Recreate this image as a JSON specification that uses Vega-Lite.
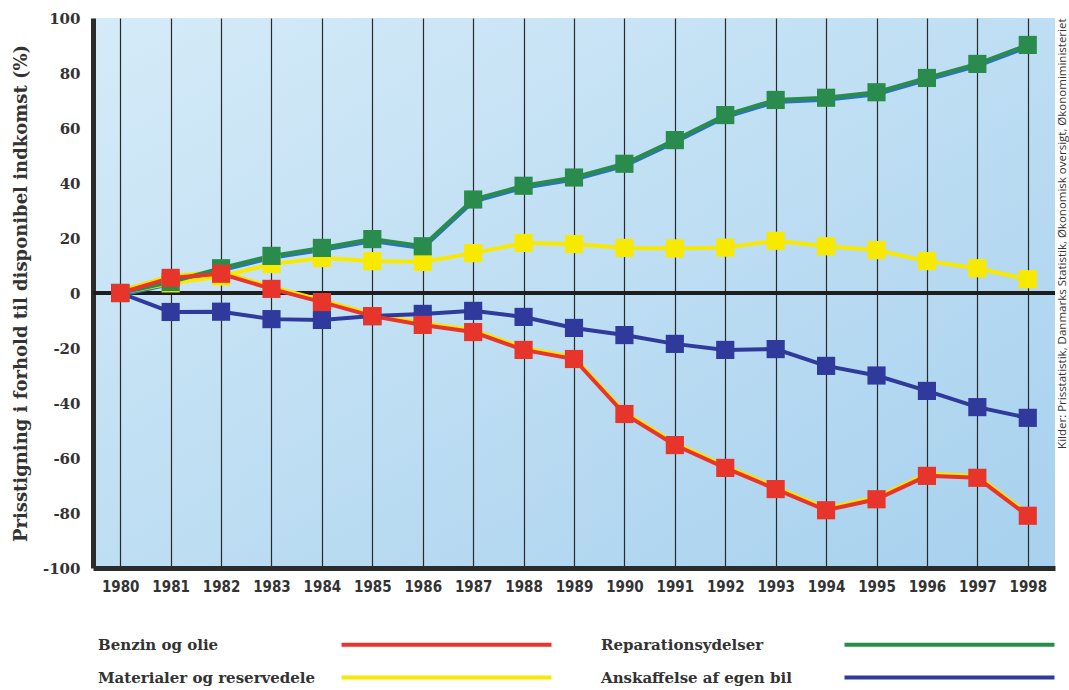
{
  "$schema": "https://vega.github.io/schema/vega-lite/v6.json",
  "width": 962,
  "height": 550,
  "autosize": "none",
  "padding": {"left": 93, "top": 18, "right": 14, "bottom": 122},
  "background": "white",
  "config": {
    "view": {
      "fill": {"gradient": "linear", "x1": 0, "y1": 0, "x2": 1, "y2": 1,
        "stops": [{"offset": 0, "color": "#d5ebf8"}, {"offset": 1, "color": "#a7d1ee"}]},
      "stroke": null
    },
    "axis": {
      "gridColor": "#2a2a2a",
      "gridOpacity": 1,
      "gridWidth": 1.2,
      "ticks": false,
      "domainColor": "#2b2b2b",
      "domainWidth": 5
    },
    "legend": {
      "orient": "none",
      "legendX": 341,
      "legendY": 614,
      "columns": 2,
      "columnPadding": 41,
      "rowPadding": 12,
      "symbolType": "M-10,0H10",
      "symbolSize": 441,
      "symbolStrokeWidth": 4,
      "labelFont": "DejaVu Serif",
      "labelFontWeight": "bold",
      "labelFontSize": 15,
      "labelColor": "#333333",
      "labelAlign": "left",
      "labelOffset": -361,
      "labelLimit": 300
    }
  },
  "resolve": {"axis": {"y": "independent"}},
  "data": {
    "values": [
      {"year": 1980, "series": "Materialer og reservedele", "value": 0},
      {"year": 1981, "series": "Materialer og reservedele", "value": 3.5},
      {"year": 1982, "series": "Materialer og reservedele", "value": 6},
      {"year": 1983, "series": "Materialer og reservedele", "value": 10.5},
      {"year": 1984, "series": "Materialer og reservedele", "value": 12.7},
      {"year": 1985, "series": "Materialer og reservedele", "value": 11.6},
      {"year": 1986, "series": "Materialer og reservedele", "value": 11.3},
      {"year": 1987, "series": "Materialer og reservedele", "value": 14.5},
      {"year": 1988, "series": "Materialer og reservedele", "value": 18.2},
      {"year": 1989, "series": "Materialer og reservedele", "value": 17.8},
      {"year": 1990, "series": "Materialer og reservedele", "value": 16.4},
      {"year": 1991, "series": "Materialer og reservedele", "value": 16.2},
      {"year": 1992, "series": "Materialer og reservedele", "value": 16.5},
      {"year": 1993, "series": "Materialer og reservedele", "value": 19},
      {"year": 1994, "series": "Materialer og reservedele", "value": 17},
      {"year": 1995, "series": "Materialer og reservedele", "value": 15.6},
      {"year": 1996, "series": "Materialer og reservedele", "value": 11.6},
      {"year": 1997, "series": "Materialer og reservedele", "value": 9},
      {"year": 1998, "series": "Materialer og reservedele", "value": 5},
      {"year": 1980, "series": "Reparationsydelser", "value": 0},
      {"year": 1981, "series": "Reparationsydelser", "value": 4},
      {"year": 1982, "series": "Reparationsydelser", "value": 9},
      {"year": 1983, "series": "Reparationsydelser", "value": 13.5},
      {"year": 1984, "series": "Reparationsydelser", "value": 16.4},
      {"year": 1985, "series": "Reparationsydelser", "value": 19.6},
      {"year": 1986, "series": "Reparationsydelser", "value": 17},
      {"year": 1987, "series": "Reparationsydelser", "value": 34},
      {"year": 1988, "series": "Reparationsydelser", "value": 39},
      {"year": 1989, "series": "Reparationsydelser", "value": 42},
      {"year": 1990, "series": "Reparationsydelser", "value": 47},
      {"year": 1991, "series": "Reparationsydelser", "value": 55.6},
      {"year": 1992, "series": "Reparationsydelser", "value": 64.7},
      {"year": 1993, "series": "Reparationsydelser", "value": 70.2},
      {"year": 1994, "series": "Reparationsydelser", "value": 71},
      {"year": 1995, "series": "Reparationsydelser", "value": 73},
      {"year": 1996, "series": "Reparationsydelser", "value": 78.2},
      {"year": 1997, "series": "Reparationsydelser", "value": 83.3},
      {"year": 1998, "series": "Reparationsydelser", "value": 90.2},
      {"year": 1980, "series": "Anskaffelse af egen bil", "value": 0},
      {"year": 1981, "series": "Anskaffelse af egen bil", "value": -6.9},
      {"year": 1982, "series": "Anskaffelse af egen bil", "value": -6.8},
      {"year": 1983, "series": "Anskaffelse af egen bil", "value": -9.5},
      {"year": 1984, "series": "Anskaffelse af egen bil", "value": -9.8},
      {"year": 1985, "series": "Anskaffelse af egen bil", "value": -8.4},
      {"year": 1986, "series": "Anskaffelse af egen bil", "value": -7.6},
      {"year": 1987, "series": "Anskaffelse af egen bil", "value": -6.5},
      {"year": 1988, "series": "Anskaffelse af egen bil", "value": -8.7},
      {"year": 1989, "series": "Anskaffelse af egen bil", "value": -12.7},
      {"year": 1990, "series": "Anskaffelse af egen bil", "value": -15.3},
      {"year": 1991, "series": "Anskaffelse af egen bil", "value": -18.5},
      {"year": 1992, "series": "Anskaffelse af egen bil", "value": -20.7},
      {"year": 1993, "series": "Anskaffelse af egen bil", "value": -20.4},
      {"year": 1994, "series": "Anskaffelse af egen bil", "value": -26.5},
      {"year": 1995, "series": "Anskaffelse af egen bil", "value": -30},
      {"year": 1996, "series": "Anskaffelse af egen bil", "value": -35.6},
      {"year": 1997, "series": "Anskaffelse af egen bil", "value": -41.5},
      {"year": 1998, "series": "Anskaffelse af egen bil", "value": -45.4},
      {"year": 1980, "series": "Benzin og olie", "value": 0},
      {"year": 1981, "series": "Benzin og olie", "value": 5.5},
      {"year": 1982, "series": "Benzin og olie", "value": 7},
      {"year": 1983, "series": "Benzin og olie", "value": 1.5},
      {"year": 1984, "series": "Benzin og olie", "value": -3.3},
      {"year": 1985, "series": "Benzin og olie", "value": -8.4},
      {"year": 1986, "series": "Benzin og olie", "value": -11.6},
      {"year": 1987, "series": "Benzin og olie", "value": -14.2},
      {"year": 1988, "series": "Benzin og olie", "value": -20.7},
      {"year": 1989, "series": "Benzin og olie", "value": -24},
      {"year": 1990, "series": "Benzin og olie", "value": -44},
      {"year": 1991, "series": "Benzin og olie", "value": -55.3},
      {"year": 1992, "series": "Benzin og olie", "value": -63.6},
      {"year": 1993, "series": "Benzin og olie", "value": -71.3},
      {"year": 1994, "series": "Benzin og olie", "value": -79},
      {"year": 1995, "series": "Benzin og olie", "value": -75},
      {"year": 1996, "series": "Benzin og olie", "value": -66.5},
      {"year": 1997, "series": "Benzin og olie", "value": -67.2},
      {"year": 1998, "series": "Benzin og olie", "value": -81}
    ]
  },
  "layer": [
    {
      "mark": {"type": "rule", "color": "#1e1e1e", "strokeWidth": 3.5},
      "encoding": {
        "y": {
          "datum": 0, "type": "quantitative",
          "scale": {"domain": [-100, 100], "nice": false},
          "axis": {
            "title": "Prisstigning i forhold til disponibel indkomst (%)",
            "titleFont": "DejaVu Serif",
            "titleFontWeight": "bold",
            "titleFontSize": 18,
            "titleColor": "#333333",
            "titlePadding": 12,
            "values": [-100, -80, -60, -40, -20, 0, 20, 40, 60, 80, 100],
            "labelExpr": "datum.value + ''",
            "labelFont": "DejaVu Serif",
            "labelFontWeight": "bold",
            "labelFontSize": 15,
            "labelColor": "#333333",
            "labelPadding": 13
          }
        }
      }
    },
    {
      "transform": [{"filter": "datum.series === 'Benzin og olie'"}],
      "mark": {"type": "line", "color": "#f7e600", "strokeWidth": 4, "yOffset": -2},
      "encoding": {
        "x": {"field": "year", "type": "quantitative"},
        "y": {"field": "value", "type": "quantitative", "axis": null}
      }
    },
    {
      "transform": [{"filter": "datum.series === 'Reparationsydelser'"}],
      "mark": {"type": "line", "color": "#2a72c4", "strokeWidth": 4, "yOffset": 2},
      "encoding": {
        "x": {"field": "year", "type": "quantitative"},
        "y": {"field": "value", "type": "quantitative", "axis": null}
      }
    },
    {
      "mark": {"type": "line", "strokeWidth": 4},
      "encoding": {
        "x": {
          "field": "year", "type": "quantitative",
          "scale": {"domain": [1979.46, 1998.54], "nice": false, "zero": false},
          "axis": {
            "title": null,
            "values": [1980, 1981, 1982, 1983, 1984, 1985, 1986, 1987, 1988, 1989, 1990, 1991, 1992, 1993, 1994, 1995, 1996, 1997, 1998],
            "format": "d",
            "labelFont": "DejaVu Sans Condensed, Liberation Sans Narrow, DejaVu Sans",
            "labelFontWeight": "bold",
            "labelFontSize": 15,
            "labelColor": "#333333",
            "labelPadding": 11
          }
        },
        "y": {
          "field": "value", "type": "quantitative",
          "axis": {
            "orient": "right",
            "title": "Kilder: Prisstatistik, Danmarks Statistik, Økonomisk oversigt, Økonomiministeriet",
            "labels": false,
            "domain": false,
            "grid": false,
            "ticks": false,
            "titleAngle": 270,
            "titleAnchor": "end",
            "titleAlign": "right",
            "titleBaseline": "middle",
            "titlePadding": 7,
            "titleFont": "Open Sans",
            "titleFontSize": 11.5,
            "titleFontWeight": "normal",
            "titleColor": "#333333"
          }
        },
        "color": {
          "field": "series", "type": "nominal",
          "scale": {
            "domain": ["Benzin og olie", "Materialer og reservedele", "Reparationsydelser", "Anskaffelse af egen bil"],
            "range": ["#e8352c", "#f7ea00", "#2a8c4c", "#2f3a9c"]
          },
          "legend": {"title": null}
        }
      }
    },
    {
      "mark": {"type": "point", "shape": "square", "filled": true, "opacity": 1, "size": 330},
      "encoding": {
        "x": {"field": "year", "type": "quantitative"},
        "y": {"field": "value", "type": "quantitative", "axis": null},
        "color": {"field": "series", "type": "nominal"}
      }
    }
  ]
}
